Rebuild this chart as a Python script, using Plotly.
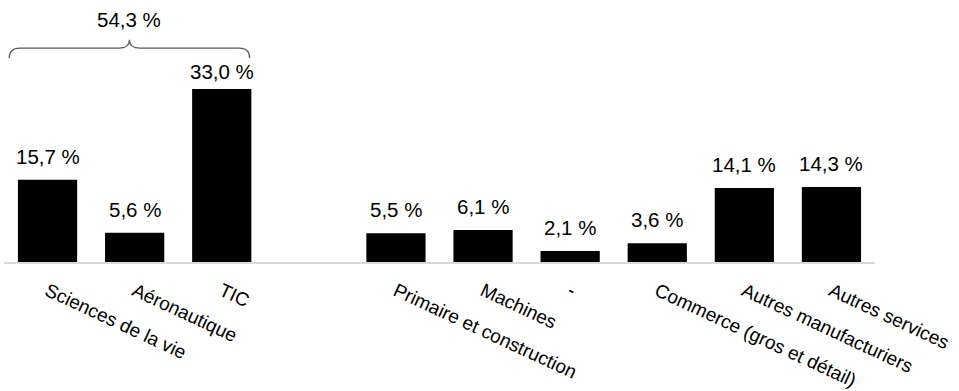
import plotly.graph_objects as go

# Share of investment by sector (%); the blank slot separates the two groups
categories = [
    "Sciences de la vie",
    "Aéronautique",
    "TIC",
    " ",
    "Primaire et construction",
    "Machines",
    "-",
    "Commerce (gros et détail)",
    "Autres manufacturiers",
    "Autres services",
]
values = [15.7, 5.6, 33.0, None, 5.5, 6.1, 2.1, 3.6, 14.1, 14.3]

# First group grouped under the brace
group_count = 3
group_total = sum(values[:group_count])

FONT = "Liberation Sans, Arial, sans-serif"
LABEL_SIZE = 20.5

Y_MAX = 50.0
PLOT_H = 262  # plot area height in px
PX_PER_UNIT = PLOT_H / Y_MAX
LABEL_GAP_PX = 16      # gap between bar top and label baseline
LABEL_CEIL = 34.9      # highest baseline a value label may reach


def fmt(v):
    return f"{v:.1f} %".replace(".", ",")


fig = go.Figure(
    go.Bar(
        x=categories,
        y=values,
        marker=dict(color="#000000", line=dict(width=0)),
        hoverinfo="skip",
    )
)

# Value labels above the bars
for cat, v in zip(categories, values):
    if v is None:
        continue
    base = min(v + LABEL_GAP_PX / PX_PER_UNIT, LABEL_CEIL)
    fig.add_annotation(
        x=cat,
        y=base,
        xref="x",
        yref="y",
        text=fmt(v),
        showarrow=False,
        yanchor="bottom",
        yshift=-6,
        font=dict(family=FONT, size=LABEL_SIZE, color="#000000"),
    )

# Curly brace above the first group
x0 = -0.44
x1 = group_count - 1 + 0.32
xm = (x0 + x1) / 2
y_end, y_line, y_peak = 38.9, 40.8, 42.4
r = 0.12
brace = (
    f"M {x0},{y_end} Q {x0},{y_line} {x0 + r},{y_line} "
    f"L {xm - r},{y_line} Q {xm},{y_line} {xm},{y_peak} "
    f"Q {xm},{y_line} {xm + r},{y_line} "
    f"L {x1 - r},{y_line} Q {x1},{y_line} {x1},{y_end}"
)
fig.add_shape(
    type="path",
    path=brace,
    xref="x",
    yref="y",
    line=dict(color="#595959", width=1.2),
)
fig.add_annotation(
    x=xm,
    y=46.2,
    xref="x",
    yref="y",
    text=fmt(group_total),
    showarrow=False,
    font=dict(family=FONT, size=LABEL_SIZE, color="#000000"),
)

fig.update_layout(
    width=959,
    height=391,
    margin=dict(l=4, r=84, t=0, b=129, autoexpand=False),
    paper_bgcolor="#ffffff",
    plot_bgcolor="#ffffff",
    bargap=0.32,
    showlegend=False,
    font=dict(family=FONT, size=19, color="#000000"),
    xaxis=dict(
        type="category",
        categoryorder="array",
        categoryarray=categories,
        tickangle=25,
        ticklabelstandoff=9,
        automargin=False,
        showline=True,
        linecolor="#d9d9d9",
        linewidth=1.5,
        ticks="",
        showgrid=False,
        zeroline=False,
        tickfont=dict(family=FONT, size=19, color="#000000"),
    ),
    yaxis=dict(
        range=[0, Y_MAX],
        visible=False,
        automargin=False,
        showgrid=False,
        zeroline=False,
    ),
)

fig.write_html("out.html")
